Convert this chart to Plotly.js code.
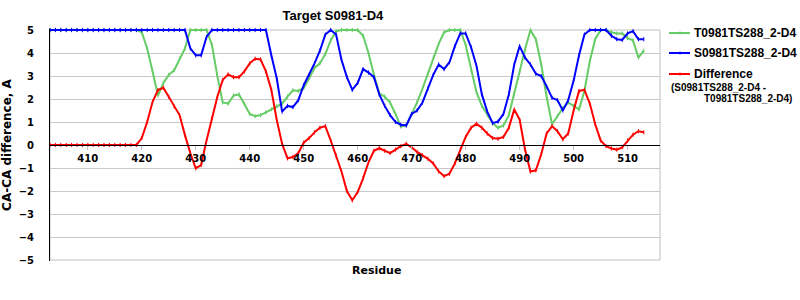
<!DOCTYPE html>
<html>
<head>
<meta charset="utf-8">
<script src="https://cdn.plot.ly/plotly-3.0.1.min.js"></script>
<style>html,body{margin:0;padding:0;background:#fff;}#chart{width:800px;height:300px;}</style>
</head>
<body>
<div id="chart"></div>
<script>
const residues = [403,404,405,406,407,408,409,410,411,412,413,414,415,416,417,418,419,420,421,422,423,424,425,426,427,428,429,430,431,432,433,434,435,436,437,438,439,440,441,442,443,444,445,446,447,448,449,450,451,452,453,454,455,456,457,458,459,460,461,462,463,464,465,466,467,468,469,470,471,472,473,474,475,476,477,478,479,480,481,482,483,484,485,486,487,488,489,490,491,492,493,494,495,496,497,498,499,500,501,502,503,504,505,506,507,508,509,510,511,512,513];

const seriesT = [5,5,5,5,5,5,5,5,5,5,5,5,5,5,5,5,5,
  4.9,4.2,3.2,2.15,2.7,3.05,3.25,3.75,4.2,5,5,5,5,4.35,3.0,1.85,1.8,2.15,2.2,1.78,
  1.35,1.25,1.3,1.42,1.55,1.68,1.8,2.1,2.38,2.35,2.48,2.9,3.35,3.55,3.95,4.55,4.95,
  5,5,5,5,4.75,4.0,3.05,2.25,2.1,1.85,1.35,0.8,0.85,1.35,1.85,2.45,3.1,3.8,4.4,4.9,
  5,5,5,4.35,3.25,2.3,1.7,1.3,0.95,0.75,0.85,1.3,2.2,3.2,4.15,5,4.6,3.5,2.1,0.9,
  1.25,1.6,1.85,1.7,1.55,2.35,3.65,4.6,5,5,4.9,4.85,4.85,4.65,4.55,3.8,4.1];

const seriesS = [5,5,5,5,5,5,5,5,5,5,5,5,5,5,5,5,5,5,5,5,5,5,5,5,5,5,
  4.2,3.9,3.9,4.7,5,5,5,5,5,5,5,5,5,5,5,
  3.9,2.9,1.45,1.7,1.65,1.95,2.6,3.05,3.55,4.1,4.8,5,4.8,3.7,2.95,2.4,2.7,3.3,3.15,
  2.95,2.2,1.7,1.3,1.0,0.88,0.85,1.35,1.5,1.85,2.45,3.05,3.5,3.3,3.6,4.3,4.85,4.85,
  4.25,3.45,2.2,1.45,0.95,1.02,1.35,2.2,3.5,4.3,3.8,3.5,3.1,3.0,2.55,2.05,1.95,1.5,
  1.95,2.8,3.9,4.8,5,5,5,5,4.75,4.6,4.57,4.85,4.95,4.6,4.6];

const seriesD = [0,0,0,0,0,0,0,0,0,0,0,0,0,0,0,0,0,
  0.3,1.0,1.88,2.39,2.49,2.1,1.67,1.3,0.43,-0.36,-1.01,-0.87,0.2,1.16,2.1,2.83,3.07,
  2.95,2.95,3.2,3.55,3.75,3.72,3.2,2.4,1.1,0.05,-0.58,-0.52,-0.35,0.1,0.3,0.55,0.75,
  0.82,0.2,-0.45,-1.15,-2.0,-2.4,-2.05,-1.45,-0.75,-0.25,-0.14,-0.25,-0.35,-0.2,-0.05,
  0.05,-0.1,-0.3,-0.45,-0.6,-0.8,-1.15,-1.35,-1.25,-0.8,-0.2,0.35,0.75,0.92,0.75,0.5,
  0.3,0.27,0.35,0.75,1.55,1.1,-0.2,-1.15,-1.1,-0.4,0.5,0.82,0.6,0.25,0.5,1.5,2.35,2.4,
  1.8,0.9,0.2,-0.05,-0.15,-0.2,-0.1,0.2,0.45,0.6,0.55];

const xTicks = [410,420,430,440,450,460,470,480,490,500,510];
const yTicks = [-5,-4,-3,-2,-1,0,1,2,3,4,5];
const seriesNames = ['T0981TS288_2-D4','S0981TS288_2-D4','Difference'];
const diffNote1 = '(S0981TS288_2-D4 -';
const diffNote2 = 'T0981TS288_2-D4)';
const titleText = 'Target S0981-D4';
const xTitle = 'Residue';
const yTitle = 'CA-CA difference, A';

const colors = ['#66CC66','#0000FF','#FF0000'];
const values = [seriesT, seriesS, seriesD];
const traces = values.map((v,i)=>({
  x: residues, y: v, name: seriesNames[i], type:'scatter', mode:'lines+markers',
  line:{color:colors[i], width:2},
  marker:{symbol:'line-ns', size:3, color:colors[i], line:{color:colors[i], width:1}},
  cliponaxis:false, showlegend:false
}));

// pixel -> paper helpers for the hand-built legend (plot area: x 50..660, y 29..261)
const px = p => (p-50)/610;
const py = p => (261-p)/232;
const legendRows = [33, 53, 74];

const shapes = [{type:'rect', xref:'paper', yref:'y', x0:0, x1:1, y0:-5, y1:5,
                 line:{color:'#c0c0c0', width:1}, layer:'below'}];
const annotations = [
  {text:xTitle, xref:'paper', yref:'paper', x:px(376), y:py(270), xanchor:'center', yanchor:'middle',
   showarrow:false, font:{family:'DejaVu Sans', size:11, weight:'bold', color:'#000'}},
  {text:diffNote1, xref:'paper', yref:'paper', x:px(669), y:py(87), xanchor:'left', yanchor:'middle',
   showarrow:false, font:{family:'Liberation Sans, Arial', size:10, weight:'bold', color:'#000'}},
  {text:diffNote2, xref:'paper', yref:'paper', x:px(702), y:py(98), xanchor:'left', yanchor:'middle',
   showarrow:false, font:{family:'Liberation Sans, Arial', size:10, weight:'bold', color:'#000'}}
];
seriesNames.forEach((n,i)=>{
  const yy = legendRows[i];
  shapes.push({type:'line', xref:'paper', yref:'paper', x0:px(669), x1:px(690), y0:py(yy), y1:py(yy),
               line:{color:colors[i], width:2}});
  shapes.push({type:'line', xref:'paper', yref:'paper', x0:px(680), x1:px(680), y0:py(yy-1.5), y1:py(yy+1.5),
               line:{color:colors[i], width:1}});
  annotations.push({text:n, xref:'paper', yref:'paper', x:px(692), y:py(yy), xanchor:'left', yanchor:'middle',
                    showarrow:false, font:{family:'Liberation Sans, Arial', size:12, weight:'bold', color:'#000'}});
});

const ext = 232/23/2;
const layout = {
  width:800, height:300,
  margin:{l:50, r:140, t:29, b:39},
  paper_bgcolor:'#fff', plot_bgcolor:'#fff',
  showlegend:false,
  title:{text:titleText, font:{family:'Liberation Sans, Arial', size:13, weight:'bold', color:'#000'},
         x:371/800, xanchor:'center', xref:'paper', y:1-15/300, yanchor:'middle'},
  xaxis:{range:[403,516], tickvals:xTicks, ticktext:xTicks.map(String),
         anchor:'free', position:0.5, showline:true, linecolor:'#000', linewidth:1,
         ticks:'outside', ticklen:4, tickcolor:'#c0c0c0', showgrid:false, zeroline:false,
         tickfont:{family:'DejaVu Sans', size:10, weight:'bold', color:'#000'}},
  yaxis:{range:[-ext, ext], tickvals:yTicks, showgrid:true, gridcolor:'#c8c8c8', gridwidth:1,
         zeroline:false, showline:true, linecolor:'#000', linewidth:1,
         ticks:'outside', ticklen:13, tickcolor:'rgba(0,0,0,0)',
         tickfont:{family:'DejaVu Sans', size:10, weight:'bold', color:'#000'},
         title:{text:yTitle, font:{family:'DejaVu Sans', size:12, weight:'bold', color:'#000'}, standoff:6}},
  shapes: shapes,
  annotations: annotations
};
Plotly.newPlot('chart', traces, layout, {displayModeBar:false, staticPlot:true});
</script>
</body>
</html>
